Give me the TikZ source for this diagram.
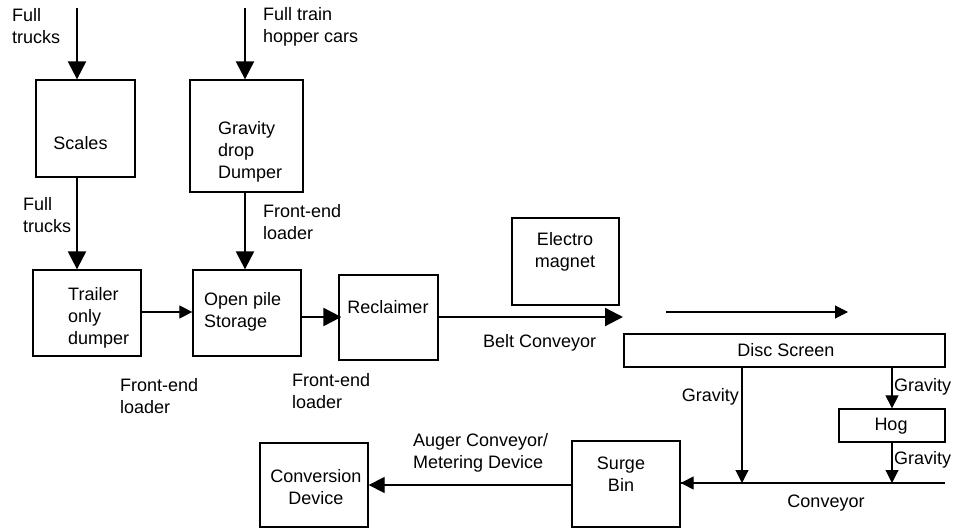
\documentclass[tikz,border=0pt]{standalone}
\usepackage{fontspec}
\setmainfont{Liberation Sans}
\usetikzlibrary{arrows.meta}
\begin{document}
\begin{tikzpicture}[x=1pt,y=-1pt,
  every node/.style={font=\fontsize{18}{22}\selectfont},
  box/.style={draw,line width=1.3pt,rectangle,inner sep=0pt},
  lbl/.style={inner sep=0pt,align=left,anchor=west},
  clbl/.style={inner sep=0pt,align=center},
  thickarrow/.style={line width=2.2pt,-{Triangle[length=18pt,width=18pt]}},
  thinarrow/.style={line width=1.1pt,-{Triangle[length=13pt,width=13pt]}},
  midarrow/.style={line width=1.3pt,-{Triangle[length=16pt,width=16pt]}},
  plainline/.style={line width=1.3pt}]
\useasboundingbox (0,0) rectangle (953,529);

% boxes
\node[box,minimum width=99pt,minimum height=97pt] (scales) at (85.5,128.5) {};
\node[box,minimum width=113pt,minimum height=112pt] (dumper) at (246.5,136) {};
\node[box,minimum width=108pt,minimum height=86pt] (trailer) at (87,313) {};
\node[box,minimum width=108pt,minimum height=86pt] (openpile) at (247,313) {};
\node[box,minimum width=99pt,minimum height=85pt] (reclaimer) at (388.5,317.5) {};
\node[box,minimum width=107pt,minimum height=87pt] (electro) at (565.5,261.5) {};
\node[box,minimum width=321pt,minimum height=33pt] (disc) at (784.5,350.5) {};
\node[box,minimum width=106pt,minimum height=33pt] (hog) at (892,425.5) {};
\node[box,minimum width=108pt,minimum height=86pt] (surge) at (626,484) {};
\node[box,minimum width=108pt,minimum height=84pt] (conversion) at (314,485) {};

% box texts
\node[clbl] (tscales) at (80.5,143) {Scales};
\node[lbl] (tdumper) at (218,151.5) {Gravity\\drop\\Dumper};
\node[lbl] (ttrailer) at (68,318) {Trailer\\only\\dumper};
\node[lbl] (topenpile) at (204,312) {Open pile\\Storage};
\node[clbl] (treclaimer) at (388,307) {Reclaimer};
\node[clbl] (telectro) at (565,252) {Electro\\magnet};
\node[clbl] (tdisc) at (786,350) {Disc Screen};
\node[clbl] (thog) at (891,426) {Hog};
\node[clbl] (tsurge) at (621,474) {Surge\\Bin};
\node[clbl] (tconversion) at (316,487) {Conversion\\Device};

% free labels
\node[lbl] (lfull1) at (12,26.5) {Full\\trucks};
\node[lbl] (ltrain) at (263,26.5) {Full train\\hopper cars};
\node[lbl] (lfull2) at (23,215) {Full\\trucks};
\node[lbl] (lfel1) at (263,222.5) {Front-end\\loader};
\node[lbl] (lfel2) at (120,396) {Front-end\\loader};
\node[lbl] (lfel3) at (292,391.5) {Front-end\\loader};
\node[lbl] (lbelt) at (483,343) {Belt Conveyor};
\node[inner sep=0pt,anchor=east] (lgrav1) at (739,397) {Gravity};
\node[lbl] (lgrav2) at (894,387) {Gravity};
\node[lbl] (lgrav3) at (894,460) {Gravity};
\node[clbl] (lconv) at (826,503) {Conveyor};
\node[lbl] (lauger) at (413,453) {Auger Conveyor/\\Metering Device};

% free connector ends
\coordinate (inA) at (77,8);
\coordinate (inB) at (245,8);
\coordinate (beltend) at (623,317);
\coordinate (thinstart) at (666,312);
\coordinate (thinend) at (848,312);
\coordinate (convR) at (945,483);
\coordinate (gravL) at (742,0);

% connectors
\draw[thickarrow] (inA) -- (inA |- scales.north);
\draw[thickarrow] (inB) -- (inB |- dumper.north);
\draw[thickarrow] (inA |- scales.south) -- (inA |- trailer.north);
\draw[thickarrow] (inB |- dumper.south) -- (inB |- openpile.north);
\draw[thinarrow] ([xshift=-2pt]trailer.east |- 0,312) -- (openpile.west |- 0,312);
\draw[thickarrow] (openpile.east |- 0,317) -- ([xshift=3pt]reclaimer.west |- 0,317);
\draw[thickarrow] (reclaimer.east |- beltend) -- (beltend);
\draw[thinarrow] (thinstart) -- (thinend);
\draw[plainline] (convR) -- (convR -| surge.east);
\draw[thinarrow] (convR -| surge.east) ++(2pt,0) -- (surge.east |- convR);
\draw[thinarrow] (gravL |- disc.south) -- (gravL |- convR);
\draw[thinarrow] (hog |- disc.south) -- (hog.north);
\draw[thinarrow] (hog.south) -- (hog |- convR);
\draw[midarrow] (surge.west |- 0,485) -- (conversion.east |- 0,485);
\end{tikzpicture}
\end{document}
